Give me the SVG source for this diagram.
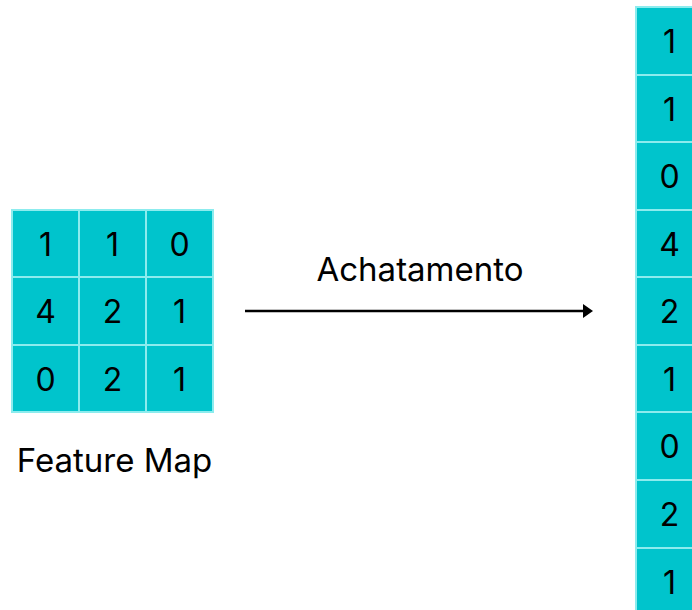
<svg xmlns="http://www.w3.org/2000/svg" width="692" height="610" viewBox="0 0 692 610">
  <style>
    .cell { fill: #00C4CC; stroke: #8CECEE; stroke-width: 2; }
    .num { font-family: Inter, Roboto, "Liberation Sans", sans-serif; font-size: 32px; fill: #000; text-anchor: middle; }
    .label { font-family: Inter, Roboto, "Liberation Sans", sans-serif; font-size: 33px; fill: #000; text-anchor: middle; }
  </style>
  <defs>
    <marker id="head" viewBox="0 0 10 14" refX="1" refY="7" markerWidth="10" markerHeight="14" markerUnits="userSpaceOnUse" orient="auto">
      <path d="M0,0 L10,7 L0,14 Z" fill="#000"/>
    </marker>
  </defs>
  <rect width="692" height="610" fill="#fff"/>

  <!-- 3x3 feature map -->
  <g id="feature-map">
    <rect class="cell" x="12" y="210" width="67" height="67"/>
    <rect class="cell" x="79" y="210" width="67" height="67"/>
    <rect class="cell" x="146" y="210" width="67" height="67"/>
    <rect class="cell" x="12" y="277" width="67" height="68"/>
    <rect class="cell" x="79" y="277" width="67" height="68"/>
    <rect class="cell" x="146" y="277" width="67" height="68"/>
    <rect class="cell" x="12" y="345" width="67" height="67"/>
    <rect class="cell" x="79" y="345" width="67" height="67"/>
    <rect class="cell" x="146" y="345" width="67" height="67"/>
    <text class="num" x="45.5" y="256">1</text>
    <text class="num" x="112.5" y="256">1</text>
    <text class="num" x="179.5" y="256">0</text>
    <text class="num" x="45.5" y="323">4</text>
    <text class="num" x="112.5" y="323">2</text>
    <text class="num" x="179.5" y="323">1</text>
    <text class="num" x="45.5" y="391">0</text>
    <text class="num" x="112.5" y="391">2</text>
    <text class="num" x="179.5" y="391">1</text>
  </g>
  <g id="feature-map-label">
    <text class="label" x="114.5" y="472">Feature Map</text>
  </g>

  <!-- flattened column -->
  <g id="flattened">
    <rect class="cell" x="636" y="7" width="67" height="68"/>
    <rect class="cell" x="636" y="75" width="67" height="67"/>
    <rect class="cell" x="636" y="142" width="67" height="68"/>
    <rect class="cell" x="636" y="210" width="67" height="67"/>
    <rect class="cell" x="636" y="277" width="67" height="68"/>
    <rect class="cell" x="636" y="345" width="67" height="67"/>
    <rect class="cell" x="636" y="412" width="67" height="68"/>
    <rect class="cell" x="636" y="480" width="67" height="68"/>
    <rect class="cell" x="636" y="548" width="67" height="68"/>
    <text class="num" x="669.5" y="53">1</text>
    <text class="num" x="669.5" y="121">1</text>
    <text class="num" x="669.5" y="188">0</text>
    <text class="num" x="669.5" y="256">4</text>
    <text class="num" x="669.5" y="323">2</text>
    <text class="num" x="669.5" y="391">1</text>
    <text class="num" x="669.5" y="458">0</text>
    <text class="num" x="669.5" y="526">2</text>
    <text class="num" x="669.5" y="594">1</text>
  </g>

  <!-- connector -->
  <g id="connectors">
    <line x1="245" y1="311" x2="584" y2="311" stroke="#000" stroke-width="2.7" marker-end="url(#head)"/>
  </g>
  <g id="connector-label">
    <text class="label" x="420" y="281">Achatamento</text>
  </g>
</svg>
